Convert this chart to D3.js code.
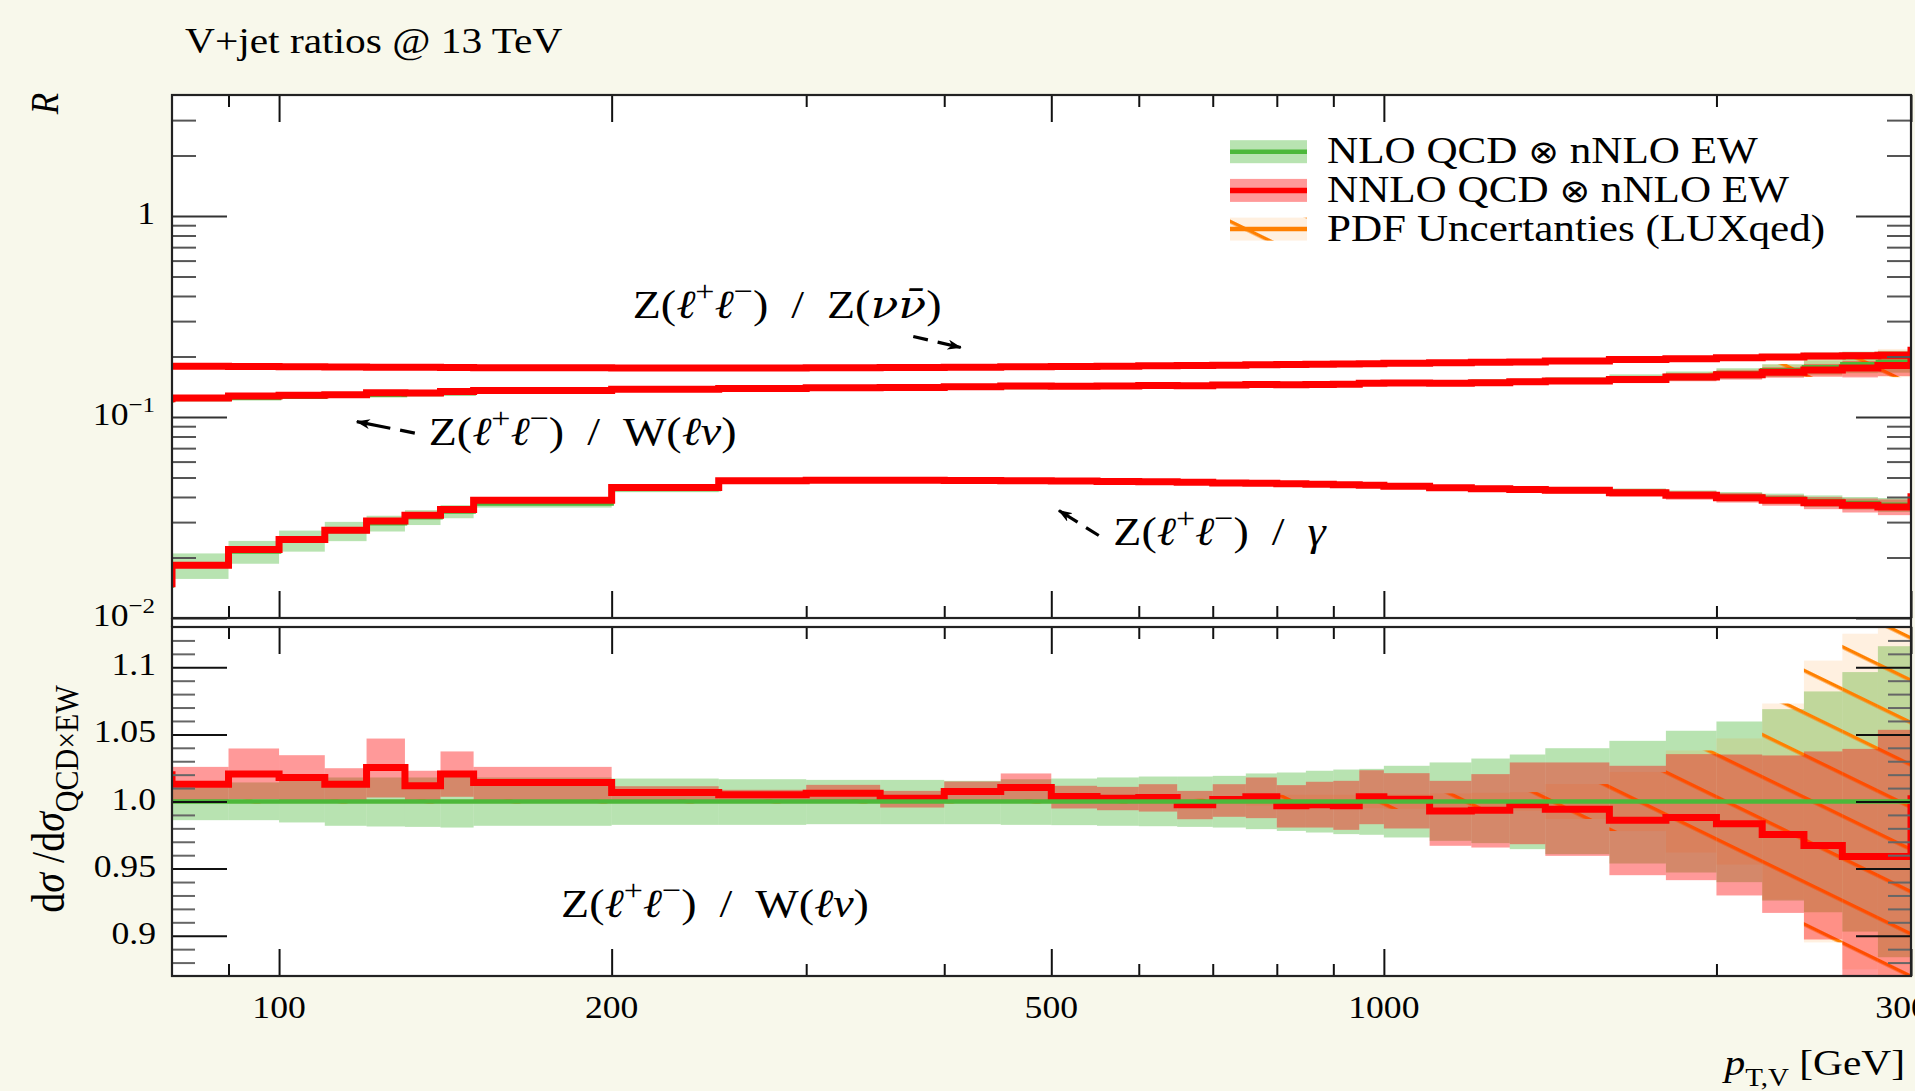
<!DOCTYPE html>
<html>
<head>
<meta charset="utf-8">
<title>V+jet ratios @ 13 TeV</title>
<script src="https://cdn.jsdelivr.net/npm/d3@7"></script>
<style>
body { margin: 0; background: #f8f8eb; }
svg { display: block; }
text { font-family: "Liberation Serif", "DejaVu Serif", serif; fill: #000; }
</style>
</head>
<body>
<svg id="plot" width="1915" height="1091"></svg>
<script>
// ----------------- DATA -----------------

// pT,V bin edges [GeV]; first and last bin are under/overflow (only their step edge peeks into the frame)
var edges = [70, 80, 90, 100, 110, 120, 130, 140, 150, 200, 250, 300, 350, 400, 450, 500, 550, 600, 650, 700,
             750, 800, 850, 900, 950, 1000, 1100, 1200, 1300, 1400, 1600, 1800, 2000, 2200, 2400, 2600, 2800, 3000, 3300];

// Z(ll) / Z(vv)
var zvNNLO = [0.179, 0.179, 0.1785, 0.178, 0.1775, 0.177, 0.1768, 0.1765, 0.176, 0.1755, 0.1755, 0.176, 0.1765, 0.177,
              0.178, 0.1785, 0.179, 0.180, 0.1805, 0.181, 0.182, 0.1825, 0.183, 0.1835, 0.184, 0.185, 0.186, 0.187,
              0.188, 0.190, 0.193, 0.195, 0.197, 0.199, 0.201, 0.202, 0.203, 0.215];
var zvNLO = [0.178, 0.178, 0.1777, 0.1772, 0.1768, 0.1764, 0.1761, 0.1758, 0.1753, 0.1750, 0.1751, 0.1755, 0.1760, 0.1766,
             0.1775, 0.1780, 0.1786, 0.1795, 0.1800, 0.1806, 0.1815, 0.1821, 0.1826, 0.1831, 0.1836, 0.1846, 0.1856, 0.1866,
             0.1876, 0.1897, 0.1927, 0.1948, 0.1968, 0.1989, 0.2010, 0.2022, 0.2033, 0.213];
var zvNLOerr = [0.012, 0.012, 0.011, 0.011, 0.010, 0.010, 0.010, 0.010, 0.009, 0.009, 0.009, 0.009, 0.009, 0.009,
                0.010, 0.010, 0.010, 0.010, 0.011, 0.011, 0.011, 0.011, 0.012, 0.012, 0.012, 0.013, 0.014, 0.016,
                0.018, 0.020, 0.024, 0.028, 0.032, 0.036, 0.040, 0.045, 0.050, 0.050];
var zvNNLOerr = [0.004, 0.004, 0.004, 0.004, 0.004, 0.004, 0.004, 0.004, 0.004, 0.003, 0.003, 0.003, 0.003, 0.003,
                 0.004, 0.004, 0.004, 0.004, 0.004, 0.005, 0.005, 0.005, 0.005, 0.005, 0.005, 0.006, 0.008, 0.010,
                 0.012, 0.015, 0.020, 0.024, 0.028, 0.032, 0.036, 0.040, 0.045, 0.045];

// Z(ll) / W(lv), NLO QCD x nNLO EW central value (bands come from the ratio panel)
var zwNLO = [0.121, 0.1228, 0.1245, 0.1260, 0.1275, 0.1288, 0.1300, 0.1312, 0.1335, 0.1365, 0.1380, 0.1390, 0.1398, 0.1405,
             0.1412, 0.1418, 0.1424, 0.1430, 0.1436, 0.1441, 0.1446, 0.1451, 0.1456, 0.1461, 0.1466, 0.1473, 0.1482, 0.1492,
             0.1502, 0.1520, 0.1560, 0.1600, 0.1650, 0.1710, 0.1770, 0.1830, 0.1880, 0.190];

// Z(ll) / gamma
var zgNNLO = [0.0148, 0.01828, 0.02189, 0.02455, 0.02731, 0.03039, 0.03243, 0.03461, 0.03851, 0.04455, 0.04819, 0.0485,
              0.0484, 0.0483, 0.0482, 0.0480, 0.0478, 0.0476, 0.0473, 0.0470, 0.0468, 0.0466, 0.0463, 0.0460, 0.0458,
              0.0452, 0.0445, 0.0440, 0.0436, 0.0432, 0.0420, 0.0408, 0.0397, 0.0385, 0.0374, 0.0364, 0.0357, 0.0401];
var zgNLO = [0.0145, 0.0183, 0.0214, 0.0243, 0.0271, 0.0296, 0.0317, 0.0339, 0.0371, 0.0438, 0.0476, 0.0482, 0.0482,
             0.0481, 0.0480, 0.0478, 0.0476, 0.0474, 0.0471, 0.0468, 0.0466, 0.0464, 0.0461, 0.0458, 0.0456, 0.0451,
             0.0445, 0.0441, 0.0437, 0.0433, 0.0423, 0.0412, 0.0402, 0.0392, 0.0382, 0.0373, 0.0366, 0.0400];
var zgNLOerr = [0.15, 0.145, 0.13, 0.12, 0.11, 0.09, 0.085, 0.075, 0.045, 0.035, 0.025, 0.020, 0.020, 0.020, 0.020,
                0.020, 0.020, 0.020, 0.020, 0.020, 0.022, 0.022, 0.024, 0.024, 0.025, 0.027, 0.030, 0.032, 0.034,
                0.037, 0.042, 0.047, 0.053, 0.060, 0.066, 0.072, 0.080, 0.080];
var zgNNLOerr = [0.010, 0.008, 0.008, 0.008, 0.008, 0.008, 0.008, 0.008, 0.008, 0.008, 0.008, 0.010, 0.010, 0.010,
                 0.010, 0.010, 0.010, 0.010, 0.010, 0.012, 0.012, 0.012, 0.012, 0.014, 0.016, 0.020, 0.025, 0.028,
                 0.030, 0.035, 0.045, 0.050, 0.055, 0.060, 0.070, 0.080, 0.090, 0.090];

// ratio panel: Z(ll)/W(lv) normalised to NLO QCD x nNLO EW
var ratioNNLO = [1.020, 1.0129, 1.0204, 1.0179, 1.0129, 1.0253, 1.0117, 1.0204, 1.0142, 1.0067, 1.0050, 1.0062, 1.0025,
                 1.0075, 1.0104, 1.0037, 1.0025, 1.0030, 0.9975, 1.0015, 1.0035, 0.9968, 0.9975, 0.9968, 1.0035, 1.0017,
                 0.9930, 0.9935, 0.9975, 0.9943, 0.9861, 0.9881, 0.9834, 0.9754, 0.9672, 0.9590, 0.9590, 1.002];
var ratioNNLOhi = [1.030, 1.0258, 1.0395, 1.0345, 1.0248, 1.0469, 1.0229, 1.0373, 1.0258, 1.0114, 1.0087, 1.0124, 1.0079,
                   1.0149, 1.0209, 1.0117, 1.0109, 1.0129, 1.0079, 1.0129, 1.0179, 1.0122, 1.0147, 1.0154, 1.0233, 1.0211,
                   1.0154, 1.0204, 1.0291, 1.0291, 1.0266, 1.0353, 1.0350, 1.0343, 1.0373, 1.0392, 1.0534, 1.020];
var ratioNNLOlo = [1.000, 1.0005, 1.0017, 1.0005, 1.0005, 1.0030, 1.0005, 1.0035, 1.0005, 1.0005, 1.0005, 1.0010, 0.9955,
                   1.0000, 1.0000, 0.9948, 0.9935, 0.9925, 0.9868, 0.9886, 0.9876, 0.9806, 0.9806, 0.9789, 0.9831, 0.9799,
                   0.9670, 0.9657, 0.9682, 0.9595, 0.9451, 0.9414, 0.9300, 0.9170, 0.8972, 0.8600, 0.8500, 0.980];
var ratioNLOhi = [1.010, 1.0104, 1.0142, 1.0154, 1.0179, 1.0179, 1.0179, 1.0191, 1.0179, 1.0171, 1.0166, 1.0161, 1.0161,
                  1.0154, 1.0166, 1.0171, 1.0179, 1.0186, 1.0186, 1.0191, 1.0209, 1.0216, 1.0229, 1.0238, 1.0243, 1.0266,
                  1.0291, 1.0320, 1.0350, 1.0397, 1.0452, 1.0527, 1.0596, 1.0688, 1.0820, 1.0964, 1.1157, 1.120];
var ratioNLOlo = [0.986, 0.9861, 0.9861, 0.9844, 0.9819, 0.9814, 0.9811, 0.9806, 0.9819, 0.9826, 0.9826, 0.9831, 0.9831,
                  0.9831, 0.9826, 0.9824, 0.9819, 0.9816, 0.9811, 0.9806, 0.9794, 0.9781, 0.9769, 0.9757, 0.9752, 0.9732,
                  0.9707, 0.9690, 0.9645, 0.9608, 0.9538, 0.9471, 0.9399, 0.9262, 0.9175, 0.9031, 0.8840, 0.880];
// PDF (LUXqed) relative half width, around the NLO value
var pdfErr = [0.0015, 0.0015, 0.0015, 0.0015, 0.0015, 0.0015, 0.0015, 0.0015, 0.0015, 0.0015, 0.0015, 0.0015, 0.0015,
              0.0015, 0.0015, 0.0015, 0.0015, 0.002, 0.002, 0.002, 0.003, 0.005, 0.005, 0.005, 0.005, 0.0055, 0.006,
              0.0065, 0.007, 0.013, 0.022, 0.038, 0.047, 0.073, 0.105, 0.125, 0.160, 0.160];

// ticks and labels
var xMajor = [100, 200, 500, 1000, 3000];
var xMajorLabels = ['100', '200', '500', '1000', '3000'];
var xMinor = [90, 300, 400, 600, 700, 800, 900, 2000];
var rMajor = [0.01, 0.1, 1];
var rMajorLabels = [['10', '\u22122'], ['10', '\u22121'], ['1', '']];
var rMinor = [0.02, 0.03, 0.04, 0.05, 0.06, 0.07, 0.08, 0.09, 0.2, 0.3, 0.4, 0.5, 0.6, 0.7, 0.8, 0.9, 2, 3];
var ratioMajor = [0.9, 0.95, 1.0, 1.05, 1.1];
var ratioLabels = ['0.9', '0.95', '1.0', '1.05', '1.1'];
var ratioMinor = [0.88, 0.89, 0.91, 0.92, 0.93, 0.94, 0.96, 0.97, 0.98, 0.99, 1.01, 1.02, 1.03, 1.04,
                  1.06, 1.07, 1.08, 1.09, 1.11, 1.12];
var legendLabels = ['NLO QCD \u2297 nNLO EW', 'NNLO QCD \u2297 nNLO EW', 'PDF Uncertanties (LUXqed)'];

// ----------------- SETUP -----------------

var green = '#4cb83a', greenBand = 'rgba(77,185,59,0.4)';
var red = '#ff0000', redBand = 'rgba(255,0,0,0.4)';
var orange = '#ff8000', pdfFill = 'rgba(255,128,0,0.12)';
var SX = 1.15;   // the reference figure is stretched horizontally

var svg = d3.select('#plot');
var x = d3.scaleLog().domain([80, 3000]).range([172, 1911]);
var yTop = d3.scaleLog().domain([0.01, 4]).range([618, 95]);
var yBot = d3.scaleLinear().domain([0.87, 1.13]).range([976, 627]);

var bins = edges.slice(0, -1).map(function(e, i) { return {x0: e, x1: edges[i + 1], i: i}; });

var defs = svg.append('defs');
function clip(id, y) {
    defs.append('clipPath').attr('id', id).append('rect')
        .attr('x', x.range()[0]).attr('y', y.range()[1])
        .attr('width', x.range()[1] - x.range()[0]).attr('height', y.range()[0] - y.range()[1]);
}
clip('clipTop', yTop);
clip('clipBot', yBot);

var pat = defs.append('pattern').attr('id', 'hatch').attr('patternUnits', 'userSpaceOnUse')
    .attr('width', 12).attr('height', 38).attr('patternTransform', 'rotate(26)');
pat.append('rect').attr('x', 0).attr('y', 0).attr('width', 12).attr('height', 3.5).attr('fill', orange);

defs.append('marker').attr('id', 'head').attr('viewBox', '0 0 14 10').attr('refX', 13).attr('refY', 5)
    .attr('markerWidth', 14).attr('markerHeight', 10).attr('markerUnits', 'userSpaceOnUse').attr('orient', 'auto')
    .append('path').attr('d', 'M0,0 L14,5 L0,10 L4,5 Z').attr('fill', '#000');

// white plot area (including the gap between the panels)
svg.append('rect').attr('x', 172).attr('y', yTop.range()[1])
    .attr('width', 1739).attr('height', yBot.range()[0] - yTop.range()[1]).attr('fill', '#fff');

// ----------------- HELPERS -----------------

function band(g, y, lo, hi, fill) {
    g.append('g').selectAll('rect').data(bins).join('rect')
        .attr('x', function(b) { return x(b.x0); })
        .attr('width', function(b) { return x(b.x1) - x(b.x0); })
        .attr('y', function(b) { return y(hi[b.i]); })
        .attr('height', function(b) { return y(lo[b.i]) - y(hi[b.i]); })
        .attr('fill', fill);
}

function pdfBand(g, y, lo, hi) {
    band(g, y, lo, hi, pdfFill);
    band(g, y, lo, hi, 'url(#hatch)');
}

function step(g, y, vals, color, width) {
    var pts = bins.map(function(b) { return [x(b.x0), y(vals[b.i])]; });
    pts.push([x(edges[edges.length - 1]), y(vals[vals.length - 1])]);
    g.append('path').attr('d', d3.line().curve(d3.curveStepAfter)(pts))
        .attr('fill', 'none').attr('stroke', color).attr('stroke-width', width);
}

function scaled(vals, err, sign) {
    return vals.map(function(v, i) { return v * (1 + sign * err[i]); });
}

function mul(a, b) {
    return a.map(function(v, i) { return v * b[i]; });
}

// text with super/subscripts, stretched like the reference
function rich(parent, px, py, size, parts, anchor, rotated, small) {
    var tr = 'translate(' + px + ',' + py + ')' + (rotated ? ' rotate(-90) scale(1,' + SX + ')' : ' scale(' + SX + ',1)');
    var t = parent.append('text').attr('transform', tr).attr('font-size', size)
        .attr('text-anchor', anchor || 'start');
    var shift = 0;
    parts.forEach(function(p) {
        var s = typeof p === 'string' ? {t: p} : p;
        var off = s.sup ? -0.42 : (s.sub ? 0.3 : 0);
        var ts = t.append('tspan').text(s.t).attr('dy', (off - shift) * size);
        if (s.sup || s.sub) ts.attr('font-size', size * (small || 0.7));
        if (s.it) ts.attr('font-style', 'italic');
        if (s.font) ts.attr('font-family', s.font);
        if (s.scale) ts.attr('font-size', size * s.scale);
        shift = off;
    });
    return t;
}

// ----------------- UPPER PANEL -----------------

var upper = svg.append('g').attr('clip-path', 'url(#clipTop)');
var zwNNLO = mul(zwNLO, ratioNNLO);

band(upper, yTop, scaled(zvNLO, zvNLOerr, -1), scaled(zvNLO, zvNLOerr, 1), greenBand);
band(upper, yTop, mul(zwNLO, ratioNLOlo), mul(zwNLO, ratioNLOhi), greenBand);
band(upper, yTop, scaled(zgNLO, zgNLOerr, -1), scaled(zgNLO, zgNLOerr, 1), greenBand);
pdfBand(upper, yTop, scaled(zwNLO, pdfErr, -1), scaled(zwNLO, pdfErr, 1));
band(upper, yTop, scaled(zvNNLO, zvNNLOerr, -1), scaled(zvNNLO, zvNNLOerr, 1), redBand);
band(upper, yTop, mul(zwNLO, ratioNNLOlo), mul(zwNLO, ratioNNLOhi), redBand);
band(upper, yTop, scaled(zgNNLO, zgNNLOerr, -1), scaled(zgNNLO, zgNNLOerr, 1), redBand);
[zvNLO, zwNLO, zgNLO].forEach(function(v) { step(upper, yTop, v, green, 4.5); });
[zvNNLO, zwNNLO, zgNNLO].forEach(function(v) { step(upper, yTop, v, red, 7); });

// ----------------- RATIO PANEL -----------------

var lower = svg.append('g').attr('clip-path', 'url(#clipBot)');
var ones = bins.map(function() { return 1; });
band(lower, yBot, ratioNLOlo, ratioNLOhi, greenBand);
pdfBand(lower, yBot, scaled(ones, pdfErr, -1), scaled(ones, pdfErr, 1));
band(lower, yBot, ratioNNLOlo, ratioNNLOhi, redBand);
step(lower, yBot, ratioNNLO, red, 7);
step(lower, yBot, ones, green, 4.5);

// ----------------- AXES -----------------

function tickRow(axis, vals, size, color, tr) {
    var g = svg.append('g').attr('transform', tr)
        .call(axis.tickValues(vals).tickSize(-size).tickFormat(''));
    g.select('.domain').remove();
    g.selectAll('.tick line').attr('stroke', color).attr('stroke-width', 2);
}

[[yTop.range()[1], d3.axisTop], [yTop.range()[0], d3.axisBottom],
 [yBot.range()[1], d3.axisTop], [yBot.range()[0], d3.axisBottom]].forEach(function(r) {
    tickRow(r[1](x), xMajor, 27, '#111', 'translate(0,' + r[0] + ')');
    tickRow(r[1](x), xMinor, 12, '#111', 'translate(0,' + r[0] + ')');
});
[[172, d3.axisLeft], [1911, d3.axisRight]].forEach(function(r) {
    tickRow(r[1](yTop), rMajor, 55, '#333', 'translate(' + r[0] + ',0)');
    tickRow(r[1](yTop), rMinor, 24, '#555', 'translate(' + r[0] + ',0)');
    tickRow(r[1](yBot), ratioMajor, 55, '#111', 'translate(' + r[0] + ',0)');
    tickRow(r[1](yBot), ratioMinor, 23, '#666', 'translate(' + r[0] + ',0)');
});

// frames
svg.append('rect').attr('x', 172).attr('y', 95).attr('width', 1739).attr('height', 523)
    .attr('fill', 'none').attr('stroke', '#222').attr('stroke-width', 2.2);
svg.append('rect').attr('x', 172).attr('y', 627).attr('width', 1739).attr('height', 349)
    .attr('fill', 'none').attr('stroke', '#222').attr('stroke-width', 2.2);
[172, 1911].forEach(function(px) {
    svg.append('line').attr('x1', px).attr('x2', px).attr('y1', 618).attr('y2', 627)
        .attr('stroke', '#222').attr('stroke-width', 2.2);
});

// tick labels
var labels = svg.append('g');
xMajor.forEach(function(v, i) {
    rich(labels, x(v), 1018, 31, [xMajorLabels[i]], 'middle');
});
rMajor.forEach(function(v, i) {
    var l = rMajorLabels[i];
    rich(labels, 155, yTop(v) + 8, 31, l[1] ? [l[0], {t: l[1], sup: 1}] : [l[0]], 'end');
});
ratioMajor.forEach(function(v, i) {
    rich(labels, 156, yBot(v) + 8, 31, [ratioLabels[i]], 'end');
});

// axis titles
rich(svg, 58, 93, 35, [{t: 'R', it: 1}], 'end', true);
rich(svg, 64, 799, 40, ['d', {t: '\u03c3', it: 1}, ' /d', {t: '\u03c3', it: 1}, {t: 'QCD\u00d7EW', sub: 1}],
     'middle', true, 0.75);
rich(svg, 1905, 1075, 36, [{t: 'p', it: 1}, {t: 'T,V', sub: 1}, ' [GeV]'], 'end');

// title
rich(svg, 185, 53, 36, ['V+jet ratios @ 13 TeV']);

// ----------------- LEGEND -----------------

var leg = svg.append('g');
var legRows = [
    {fill: greenBand, line: green, w: 4.5},
    {fill: redBand, line: red, w: 5.5},
    {fill: pdfFill, line: orange, w: 4.5, hatch: true}
];
legRows.forEach(function(r, i) {
    var cy = 151.7 + i * 38.7;
    leg.append('rect').attr('x', 1230).attr('y', cy - 11.5).attr('width', 77).attr('height', 23).attr('fill', r.fill);
    if (r.hatch) leg.append('rect').attr('x', 1230).attr('y', cy - 11.5).attr('width', 77).attr('height', 23).attr('fill', 'url(#hatch)');
    leg.append('line').attr('x1', 1230).attr('x2', 1307).attr('y1', cy).attr('y2', cy)
        .attr('stroke', r.line).attr('stroke-width', r.w);
    var pieces = legendLabels[i].split('\u2297');
    var parts = pieces.length > 1
        ? [pieces[0], {t: '\u2297', font: '"DejaVu Sans", sans-serif', scale: 0.85}, pieces[1]]
        : pieces;
    rich(leg, 1327, cy + 11.6, 37.5, parts);
});

// ----------------- ANNOTATIONS -----------------

var zll = ['Z(', {t: '\u2113', it: 1}, {t: '+', sup: 1}, {t: '\u2113', it: 1}, {t: '\u2212', sup: 1}, ')\u2002/\u2002'];
var notes = [
    {pt: 209, y: yTop, v: 0.311,
     parts: zll.concat(['Z(', {t: '\u03bd\u03bd\u0304', it: 1, font: '"DejaVu Serif", serif'}, ')']),
     arrow: [[375, 0.2515], [414, 0.2218]]},
    {pt: 136.6, y: yTop, v: 0.0726, parts: zll.concat(['W(', {t: '\u2113\u03bd', it: 1}, ')']),
     arrow: [[132.7, 0.0832], [117.6, 0.0948]]},
    {pt: 569, y: yTop, v: 0.0231, parts: zll.concat([{t: '\u03b3', it: 1}]),
     arrow: [[552, 0.02573], [508, 0.03426]]},
    {pt: 180, y: yBot, v: 0.914, parts: zll.concat(['W(', {t: '\u2113\u03bd', it: 1}, ')'])}
];
notes.forEach(function(n) {
    rich(svg, x(n.pt), n.y(n.v), 40, n.parts, 'start', false, 0.74);
    if (n.arrow) {
        svg.append('line')
            .attr('x1', x(n.arrow[0][0])).attr('y1', n.y(n.arrow[0][1]))
            .attr('x2', x(n.arrow[1][0])).attr('y2', n.y(n.arrow[1][1]))
            .attr('stroke', '#000').attr('stroke-width', 3.2).attr('stroke-dasharray', '15,10,60')
            .attr('marker-end', 'url(#head)');
    }
});
</script>
</body>
</html>
